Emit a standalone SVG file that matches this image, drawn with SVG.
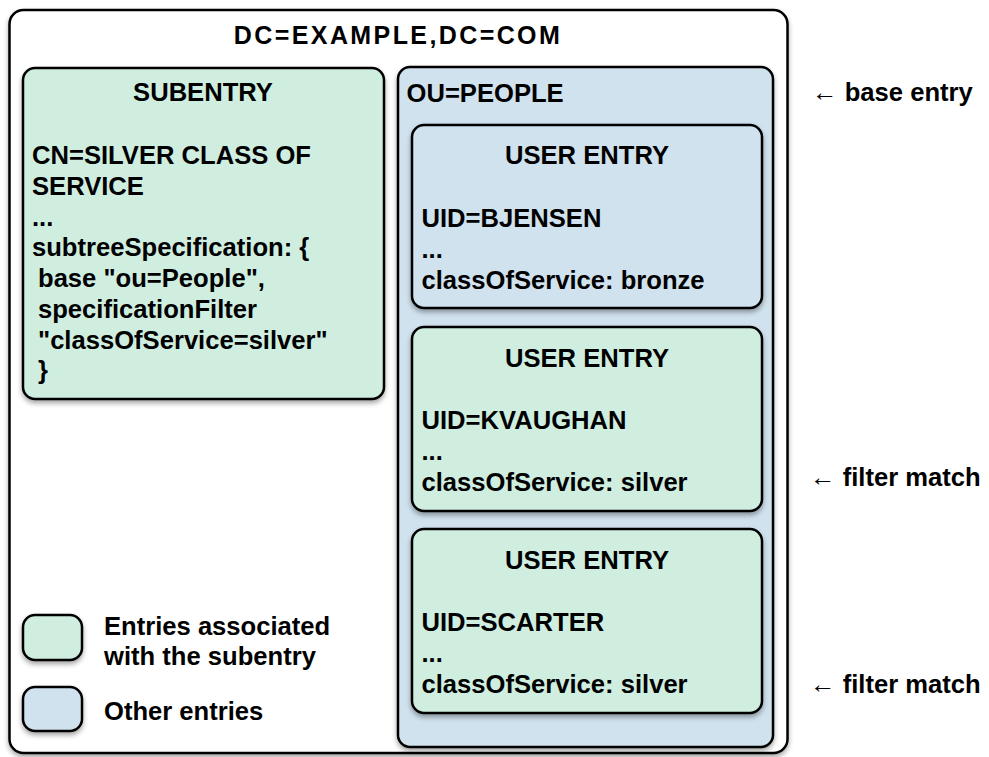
<svg xmlns="http://www.w3.org/2000/svg" width="989" height="757" viewBox="0 0 989 757">
<style>
.t{font-family:"Liberation Sans",Arial,Helvetica,sans-serif;font-weight:bold;font-size:25.6px;fill:#000}
.c{text-anchor:middle}
.box{stroke:#000;stroke-width:2.5}
.g{fill:#cfeee0}
.b{fill:#d0e2ee}
.w{fill:#fff}
</style>
<defs>
<filter id="sh" x="-10%" y="-10%" width="120%" height="130%">
<feDropShadow dx="0" dy="3" stdDeviation="2.5" flood-color="#000" flood-opacity="0.35"/>
</filter>
</defs>
<rect width="989" height="757" fill="#fff"/>
<g id="root">
<rect class="box w" x="9.5" y="10" width="778" height="743" rx="14" filter="url(#sh)"/>
<text class="t c" x="398" y="44" style="font-size:25px;letter-spacing:2.4px">DC=EXAMPLE,DC=COM</text>
</g>
<g id="subentry">
<rect class="box g" x="23" y="68" width="361" height="331" rx="12" filter="url(#sh)"/>
<text class="t c" x="203" y="101">SUBENTRY</text>
<text class="t" x="32" y="164.3">CN=SILVER CLASS OF</text>
<text class="t" x="32" y="195">SERVICE</text>
<text class="t" x="32" y="225.7">...</text>
<text class="t" x="32" y="256.4">subtreeSpecification: {</text>
<text class="t" x="38" y="287">base "ou=People",</text>
<text class="t" x="38" y="317.8">specificationFilter</text>
<text class="t" x="38" y="348.5">"classOfService=silver"</text>
<text class="t" x="38" y="379">}</text>
</g>
<g id="people">
<rect class="box b" x="398" y="67" width="375" height="680" rx="12" filter="url(#sh)"/>
<text class="t" x="406.5" y="101.7">OU=PEOPLE</text>
</g>
<g id="bjensen">
<rect class="box b" x="412" y="125" width="350" height="183" rx="12" filter="url(#sh)"/>
<text class="t c" x="587" y="164.3">USER ENTRY</text>
<text class="t" x="421.5" y="226.7">UID=BJENSEN</text>
<text class="t" x="421.5" y="257.5">...</text>
<text class="t" x="421.5" y="288.5">classOfService: bronze</text>
</g>
<g id="kvaughan">
<rect class="box g" x="412" y="327" width="350" height="184" rx="12" filter="url(#sh)"/>
<text class="t c" x="587" y="366.5">USER ENTRY</text>
<text class="t" x="421.5" y="428.7">UID=KVAUGHAN</text>
<text class="t" x="421.5" y="459.5">...</text>
<text class="t" x="421.5" y="490.5">classOfService: silver</text>
</g>
<g id="scarter">
<rect class="box g" x="412" y="529" width="350" height="184" rx="12" filter="url(#sh)"/>
<text class="t c" x="587" y="568.5">USER ENTRY</text>
<text class="t" x="421.5" y="630.7">UID=SCARTER</text>
<text class="t" x="421.5" y="661.5">...</text>
<text class="t" x="421.5" y="692.5">classOfService: silver</text>
</g>
<g id="labels">
<text class="t" x="812" y="100.7">← base entry</text>
<text class="t" x="810" y="485.7">← filter match</text>
<text class="t" x="810" y="692.5">← filter match</text>
</g>
<g id="legend">
<rect class="box g" x="23" y="615" width="59" height="45" rx="12" filter="url(#sh)"/>
<rect class="box b" x="23" y="687" width="59" height="44" rx="12" filter="url(#sh)"/>
<text class="t" x="104" y="635">Entries associated</text>
<text class="t" x="104" y="665">with the subentry</text>
<text class="t" x="104" y="720">Other entries</text>
</g>
<g id="connectors"></g>
</svg>
